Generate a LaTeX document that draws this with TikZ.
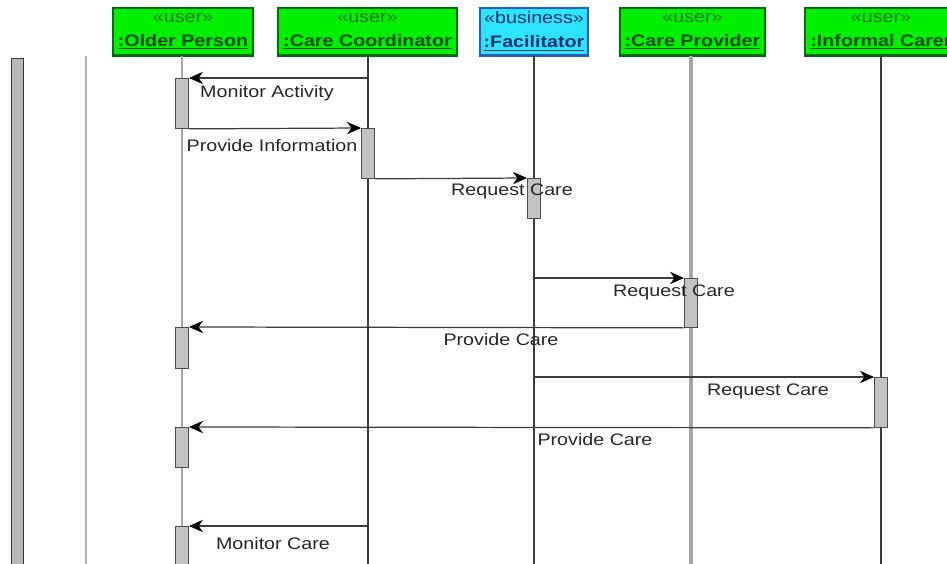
\documentclass[tikz,border=0pt]{standalone}
\usepackage{fontspec}
\setmainfont[FakeStretch=1.18]{Liberation Sans}
\usetikzlibrary{arrows.meta}

\definecolor{usergreen}{RGB}{0,240,0}
\definecolor{userborder}{RGB}{0,105,20}
\definecolor{usertext}{RGB}{15,75,20}
\definecolor{userstereo}{RGB}{40,120,40}
\definecolor{bizcyan}{RGB}{45,228,255}
\definecolor{bizborder}{RGB}{35,95,190}
\definecolor{biztext}{RGB}{20,50,110}
\definecolor{actgray}{RGB}{195,195,195}
\definecolor{linegray}{RGB}{60,60,60}

\begin{document}
\begin{tikzpicture}[x=0.02cm,y=-0.02cm,
  userbox/.style={rectangle, fill=usergreen, draw=userborder, line width=0.7pt,
    minimum height=0.94cm, inner sep=0pt, align=center, text=usertext,
    font=\fontsize{9.5}{13.5}\selectfont},
  bizbox/.style={userbox, fill=bizcyan, draw=bizborder, text=biztext},
  lifeline/.style={draw=linegray, line width=0.6pt},
  paleline/.style={draw=gray!70, line width=1.3pt},
  act/.style={rectangle, fill=actgray, draw=gray!60!black, line width=0.5pt,
    minimum width=0.26cm, inner sep=0pt, anchor=north},
  msg/.style={draw=linegray, line width=0.7pt,
    -{Stealth[length=8pt,width=7pt,inset=2.5pt,black]}},
  lbl/.style={font=\fontsize{9.5}{11}\selectfont, text=black!85, inner sep=0pt}]

 \useasboundingbox (0,0) rectangle (947,564);
 \clip (0,0) rectangle (947,564);

 % frame on the left
 \fill[gray!55, draw=gray!45!black, line width=0.4pt] (11,58) rectangle (23,570);
 \draw[gray!60, line width=1.4pt] (86,56) -- (86,570);

 % actors
 \node[userbox, minimum width=2.80cm] (op) at (183,31.5)
   {{\color{userstereo}«user»}\\\textbf{\underline{:Older Person}}};
 \node[userbox, minimum width=3.58cm] (cc) at (367.5,31.5)
   {{\color{userstereo}«user»}\\\textbf{\underline{:Care Coordinator}}};
 \node[bizbox, minimum width=2.16cm] (fa) at (534,31.5)
   {«business»\\\textbf{\underline{:Facilitator}}};
 \node[userbox, minimum width=2.90cm] (cp) at (692.5,31.5)
   {{\color{userstereo}«user»}\\\textbf{\underline{:Care Provider}}};
 \node[userbox, minimum width=3.04cm] (ic) at (881,31.5)
   {{\color{userstereo}«user»}\\\textbf{\underline{:Informal Carer}}};

 % shadow under the actors
 \draw[userborder, line width=1.2pt] (op.south west) -- (op.south east);
 \draw[userborder, line width=1.2pt] (cc.south west) -- (cc.south east);
 \draw[bizborder, line width=1.2pt] (fa.south west) -- (fa.south east);
 \draw[userborder, line width=1.2pt] (cp.south west) -- (cp.south east);
 \draw[userborder, line width=1.2pt] (ic.south west) -- (ic.south east);

 % lifeline ends
 \coordinate (opEnd) at (182,570);
 \coordinate (ccEnd) at (368,570);
 \coordinate (faEnd) at (534,570);
 \coordinate (cpEnd) at (691,570);
 \coordinate (icEnd) at (881,570);

 % lifelines
 \draw[paleline] (182,56) -- (opEnd);
 \draw[lifeline] (368,56) -- (ccEnd);
 \draw[lifeline] (534,56) -- (faEnd);
 \draw[paleline, line width=1.8pt] (691,56) -- (cpEnd);
 \draw[lifeline, line width=0.9pt] (881,56) -- (icEnd);

 % activations
 \node[act, minimum height=1.00cm] (a1) at (182,78) {};
 \node[act, minimum height=1.00cm] (a2) at (368,128) {};
 \node[act, minimum height=0.80cm] (a3) at (534,178) {};
 \node[act, minimum height=0.98cm] (a4) at (691,278) {};
 \node[act, minimum height=0.82cm] (a5) at (182,327) {};
 \node[act, minimum height=1.00cm] (a6) at (881,377) {};
 \node[act, minimum height=0.80cm] (a7) at (182,427) {};
 \node[act, minimum height=1.00cm] (a8) at (182,526) {};

 % message starts
 \coordinate (m1) at (368,78);
 \coordinate (m4) at (534,278);
 \coordinate (m6) at (534,377);
 \coordinate (m8) at (368,526);

 % messages
 \draw[msg] (m1) -- (a1.north east);
 \draw[msg] (a1.south east) -- (a2.north west);
 \draw[msg] (a2.south east) -- (a3.north west);
 \draw[msg] (m4) -- (a4.north west);
 \draw[msg] (a4.south west) -- (a5.north east);
 \draw[msg] (m6) -- (a6.north west);
 \draw[msg] (a6.south west) -- (a7.north east);
 \draw[msg] (m8) -- (a8.north east);

 % labels
 \node[lbl] (l1) at (267,93) {Monitor Activity};
 \node[lbl] (l2) at (272,146) {Provide Information};
 \node[lbl] (l3) at (512,191) {Request Care};
 \node[lbl] (l4) at (674,292) {Request Care};
 \node[lbl] (l5) at (501,340) {Provide Care};
 \node[lbl] (l6) at (768,391) {Request Care};
 \node[lbl] (l7) at (595,440) {Provide Care};
 \node[lbl] (l8) at (273,544) {Monitor Care};
\end{tikzpicture}
\end{document}
